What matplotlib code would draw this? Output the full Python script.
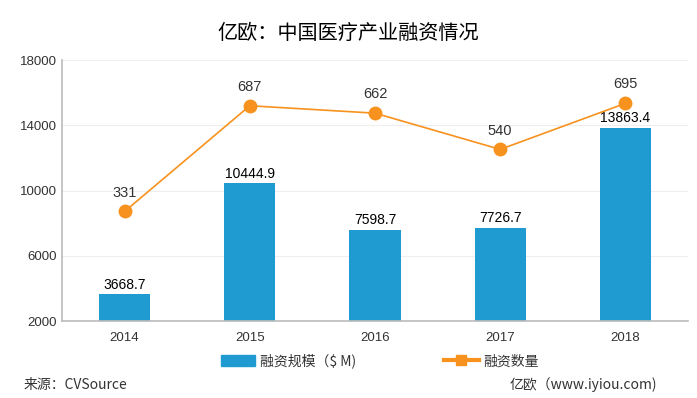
import matplotlib.pyplot as plt
from matplotlib.lines import Line2D
from matplotlib.patches import Patch

plt.rcParams['font.family'] = ['Noto Sans CJK SC', 'DejaVu Sans']

# data
years = ['2014', '2015', '2016', '2017', '2018']
amount = [3668.7, 10444.9, 7598.7, 7726.7, 13863.4]   # 融资规模 ($M)
deals = [331, 687, 662, 540, 695]                      # 融资数量

bar_color = '#1F9BD2'
line_color = '#F7921E'
text_color = '#333333'

fig = plt.figure(figsize=(6.97, 3.98), dpi=100)
ax = fig.add_axes([0.089, 0.193, 0.898, 0.656])

x = range(len(years))
ax.bar(x, amount, width=0.41, color=bar_color, zorder=2)
for xi, v in zip(x, amount):
    ax.text(xi, v + 150, f'{v}', ha='center', va='bottom',
            fontsize=10, color='black', family='Liberation Sans', zorder=4)

ax.set_xlim(-0.5, 4.5)
ax.set_ylim(2000, 18000)
ax.set_yticks([2000, 6000, 10000, 14000, 18000])
ax.set_xticks(list(x))
ax.set_xticklabels(years)
ax.tick_params(axis='both', length=0, labelsize=9.5, colors=text_color)
ax.tick_params(axis='x', pad=8)
for lab in ax.get_xticklabels() + ax.get_yticklabels():
    lab.set_family('Liberation Sans')
ax.grid(axis='y', color='#EEEEEE', linewidth=0.8, zorder=0)
for s in ['top', 'right']:
    ax.spines[s].set_visible(False)
ax.spines['left'].set_color('#BBBBBB')
ax.spines['bottom'].set_color('#BBBBBB')
ax.spines['left'].set_linewidth(1.2)
ax.spines['bottom'].set_linewidth(1.2)

# deal counts on a hidden secondary scale
ax2 = ax.twinx()
ax2.set_ylim(-38.5, 840.7)
ax2.axis('off')
ax2.plot(x, deals, color=line_color, linewidth=1.2, marker='o',
         markersize=10, markeredgewidth=0, zorder=3)
for xi, v in zip(x, deals):
    ax2.text(xi, v + 40, str(v), ha='center', va='bottom',
             fontsize=10.5, color=text_color, family='Liberation Sans')

fig.text(0.5, 0.915, '亿欧：中国医疗产业融资情况', ha='center', va='center',
         fontsize=14.5, color='black')

handles = [Patch(color=bar_color),
           Line2D([0], [0], color=line_color, linewidth=3, marker='s', markersize=7)]
fig.legend(handles, ['融资规模（$ M)', '融资数量'], loc='center',
           bbox_to_anchor=(0.545, 0.093), ncol=2, frameon=False,
           fontsize=10, columnspacing=6.3, handlelength=2.5, handleheight=0.9,
           handletextpad=0.35, labelcolor=text_color)

fig.text(0.034, 0.033, '来源：CVSource', ha='left', va='center',
         fontsize=10, color=text_color)
fig.text(0.943, 0.033, '亿欧（www.iyiou.com)', ha='right', va='center',
         fontsize=10, color=text_color)

fig.savefig('out.png', dpi=100)
